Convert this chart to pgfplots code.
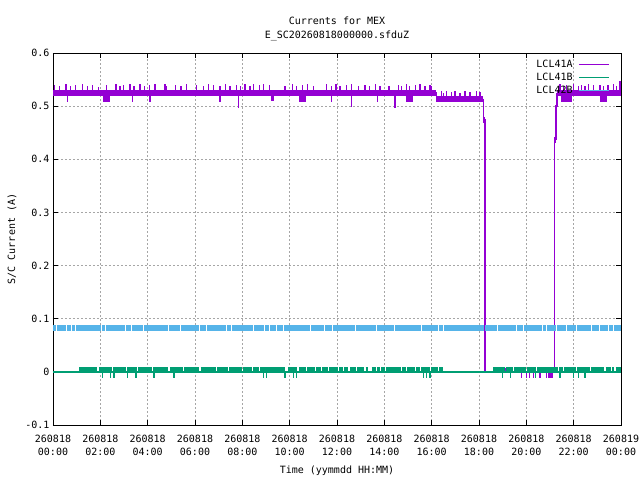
\documentclass[border=0pt]{standalone}
\usepackage{fontspec}
\setmainfont{DejaVu Sans Mono}
\usepackage{pgfplots}
\pgfplotsset{compat=1.18}
\definecolor{cA}{HTML}{9400D3}
\definecolor{cB}{HTML}{009E73}
\definecolor{cC}{HTML}{56B4E9}
\begin{document}
\begin{tikzpicture}
\useasboundingbox (-53pt,-55pt) rectangle (587pt,425pt);
\begin{axis}[
  at={(0pt,0pt)}, anchor=south west,
  scale only axis, width=568pt, height=372pt,
  xmin=0, xmax=24, ymin=-0.1, ymax=0.6,
  xtick={0,2,4,6,8,10,12,14,16,18,20,22,24},
  xticklabels={{260818\\[1pt]00:00},{260818\\[1pt]02:00},{260818\\[1pt]04:00},{260818\\[1pt]06:00},{260818\\[1pt]08:00},{260818\\[1pt]10:00},{260818\\[1pt]12:00},{260818\\[1pt]14:00},{260818\\[1pt]16:00},{260818\\[1pt]18:00},{260818\\[1pt]20:00},{260818\\[1pt]22:00},{260819\\[1pt]00:00}},
  xticklabel style={align=center, yshift=-7pt},
  ytick={-0.1,0,0.1,0.2,0.3,0.4,0.5,0.6},
  yticklabels={-0.1,0,0.1,0.2,0.3,0.4,0.5,0.6},
  tick align=inside, tick pos=both, major tick length=5pt,
  tick style={black, line width=0.8pt},
  axis line style={black, line width=0.8pt},
  grid=major,
  major grid style={gray!70, line width=0.8pt, dash pattern=on 2pt off 2pt},
  xlabel={Time (yymmdd HH:MM)}, ylabel={S/C Current (A)},
  xlabel style={yshift=-3pt},
  ylabel style={yshift=2pt},
  title={Currents for MEX\\[2pt]E\_SC20260818000000.sfduZ},
  title style={align=center, yshift=3pt},
  unbounded coords=jump,
  legend style={at={(1,1)}, anchor=north east, draw=none, fill=none, xshift=-8pt, yshift=-3pt,
    /tikz/every odd column/.append style={column sep=4pt}},
  legend plot pos=right, legend cell align=right,
  legend image code/.code={\draw[#1] (0pt,0pt) -- (30pt,0pt);},
]
\addlegendimage{cA, line width=1.2pt}
\addlegendentry{LCL41A}
\addlegendimage{cB, line width=1.2pt}
\addlegendentry{LCL41B}
\addlegendimage{cC, line width=1.2pt}
\addlegendentry{LCL42B}

% LCL41A band
\addplot[cA, line width=5.8pt, forget plot] coordinates {
(0,0.5245)(16.18,0.5245)(16.18,nan)
(16.18,0.5135)(18.18,0.5135)(18.18,nan)
(18.18,0.474)(18.25,0.474)(18.25,nan)
(21.19,0.437)(21.25,0.437)(21.25,nan)
(21.3,0.5245)(24,0.5245)(24,nan)
(2.1,0.514)(2.4,0.514)(2.4,nan)
(9.2,0.515)(9.35,0.515)(9.35,nan)
(10.4,0.514)(10.7,0.514)(10.7,nan)
(14.9,0.514)(15.2,0.514)(15.2,nan)
(21.45,0.514)(21.95,0.514)(21.95,nan)
(23.1,0.514)(23.4,0.514)(23.4,nan)
};
% LCL41A transitions
\addplot[cA, line width=1.5pt, forget plot] coordinates {
(18.18,0.514)(18.18,0.474)(18.25,0.474)(18.25,0)(21.19,0)(21.19,0.437)(21.25,0.437)(21.25,0.50)(21.3,0.50)(21.3,0.524)
};
% LCL41A spikes
\addplot[cA, line width=1.2pt, forget plot] coordinates {
(0.08,0.524)(0.08,0.540)(0.08,nan)
(0.27,0.524)(0.27,0.538)(0.27,nan)
(0.55,0.524)(0.55,0.541)(0.55,nan)
(0.75,0.524)(0.75,0.537)(0.75,nan)
(0.95,0.524)(0.95,0.540)(0.95,nan)
(1.25,0.524)(1.25,0.541)(1.25,nan)
(1.45,0.524)(1.45,0.538)(1.45,nan)
(1.68,0.524)(1.68,0.540)(1.68,nan)
(1.92,0.524)(1.92,0.536)(1.92,nan)
(2.27,0.524)(2.27,0.539)(2.27,nan)
(2.66,0.524)(2.66,0.541)(2.66,nan)
(2.83,0.524)(2.83,0.537)(2.83,nan)
(2.97,0.524)(2.97,0.540)(2.97,nan)
(3.25,0.524)(3.25,0.542)(3.25,nan)
(3.42,0.524)(3.42,0.538)(3.42,nan)
(3.68,0.524)(3.68,0.541)(3.68,nan)
(3.85,0.524)(3.85,0.537)(3.85,nan)
(4.07,0.524)(4.07,0.540)(4.07,nan)
(4.31,0.524)(4.31,0.542)(4.31,nan)
(4.73,0.524)(4.73,0.541)(4.73,nan)
(4.80,0.524)(4.80,0.537)(4.80,nan)
(5.18,0.524)(5.18,0.540)(5.18,nan)
(5.41,0.524)(5.41,0.538)(5.41,nan)
(5.65,0.524)(5.65,0.541)(5.65,nan)
(6.07,0.524)(6.07,0.539)(6.07,nan)
(6.35,0.524)(6.35,0.537)(6.35,nan)
(6.56,0.524)(6.56,0.541)(6.56,nan)
(6.77,0.524)(6.77,0.540)(6.77,nan)
(7.06,0.524)(7.06,0.538)(7.06,nan)
(7.28,0.524)(7.28,0.541)(7.28,nan)
(7.48,0.524)(7.48,0.537)(7.48,nan)
(7.76,0.524)(7.76,0.540)(7.76,nan)
(7.93,0.524)(7.93,0.538)(7.93,nan)
(8.11,0.524)(8.11,0.541)(8.11,nan)
(8.32,0.524)(8.32,0.537)(8.32,nan)
(8.46,0.524)(8.46,0.541)(8.46,nan)
(8.72,0.524)(8.72,0.539)(8.72,nan)
(8.89,0.524)(8.89,0.541)(8.89,nan)
(9.14,0.524)(9.14,0.540)(9.14,nan)
(9.80,0.524)(9.80,0.538)(9.80,nan)
(10.13,0.524)(10.13,0.541)(10.13,nan)
(10.30,0.524)(10.30,0.537)(10.30,nan)
(10.53,0.524)(10.53,0.540)(10.53,nan)
(10.75,0.524)(10.75,0.541)(10.75,nan)
(11.00,0.524)(11.00,0.538)(11.00,nan)
(11.54,0.524)(11.54,0.541)(11.54,nan)
(11.78,0.524)(11.78,0.538)(11.78,nan)
(11.96,0.524)(11.96,0.542)(11.96,nan)
(12.13,0.524)(12.13,0.537)(12.13,nan)
(12.41,0.524)(12.41,0.540)(12.41,nan)
(12.62,0.524)(12.62,0.541)(12.62,nan)
(12.90,0.524)(12.90,0.538)(12.90,nan)
(13.18,0.524)(13.18,0.540)(13.18,nan)
(13.37,0.524)(13.37,0.537)(13.37,nan)
(13.61,0.524)(13.61,0.541)(13.61,nan)
(13.82,0.524)(13.82,0.538)(13.82,nan)
(14.20,0.524)(14.20,0.537)(14.20,nan)
(14.59,0.524)(14.59,0.540)(14.59,nan)
(14.73,0.524)(14.73,0.538)(14.73,nan)
(14.94,0.524)(14.94,0.541)(14.94,nan)
(15.08,0.524)(15.08,0.537)(15.08,nan)
(15.30,0.524)(15.30,0.540)(15.30,nan)
(15.51,0.524)(15.51,0.541)(15.51,nan)
(15.72,0.524)(15.72,0.538)(15.72,nan)
(15.93,0.524)(15.93,0.540)(15.93,nan)
(16.00,0.524)(16.00,0.537)(16.00,nan)
(16.20,0.513)(16.20,0.527)(16.20,nan)
(16.42,0.513)(16.42,0.529)(16.42,nan)
(16.49,0.513)(16.49,0.524)(16.49,nan)
(16.63,0.513)(16.63,0.528)(16.63,nan)
(16.85,0.513)(16.85,0.526)(16.85,nan)
(16.99,0.513)(16.99,0.529)(16.99,nan)
(17.20,0.513)(17.20,0.525)(17.20,nan)
(17.41,0.513)(17.41,0.528)(17.41,nan)
(17.62,0.513)(17.62,0.526)(17.62,nan)
(17.90,0.513)(17.90,0.529)(17.90,nan)
(18.04,0.513)(18.04,0.527)(18.04,nan)
(21.42,0.524)(21.42,0.541)(21.42,nan)
(21.56,0.524)(21.56,0.538)(21.56,nan)
(21.71,0.524)(21.71,0.540)(21.71,nan)
(21.98,0.524)(21.98,0.541)(21.98,nan)
(22.20,0.524)(22.20,0.537)(22.20,nan)
(22.34,0.524)(22.34,0.540)(22.34,nan)
(22.48,0.524)(22.48,0.538)(22.48,nan)
(22.62,0.524)(22.62,0.541)(22.62,nan)
(22.83,0.524)(22.83,0.539)(22.83,nan)
(23.11,0.524)(23.11,0.540)(23.11,nan)
(23.25,0.524)(23.25,0.537)(23.25,nan)
(23.45,0.524)(23.45,0.539)(23.45,nan)
(23.67,0.524)(23.67,0.541)(23.67,nan)
(23.80,0.524)(23.80,0.537)(23.80,nan)
(23.96,0.524)(23.96,0.548)(23.96,nan)
(0.61,0.524)(0.61,0.508)(0.61,nan)
(3.37,0.524)(3.37,0.508)(3.37,nan)
(4.10,0.524)(4.10,0.508)(4.10,nan)
(7.06,0.524)(7.06,0.508)(7.06,nan)
(7.83,0.524)(7.83,0.497)(7.83,nan)
(11.78,0.524)(11.78,0.508)(11.78,nan)
(12.62,0.524)(12.62,0.498)(12.62,nan)
(13.72,0.524)(13.72,0.508)(13.72,nan)
(14.45,0.524)(14.45,0.497)(14.45,nan)
(15.10,0.524)(15.10,0.510)(15.10,nan)
(19.10,0)(19.10,0.008)(19.10,nan)
(19.52,0)(19.52,0.008)(19.52,nan)
(19.80,0.008)(19.80,-0.011)(19.80,nan)
(20.01,0)(20.01,-0.011)(20.01,nan)
(20.13,0)(20.13,-0.011)(20.13,nan)
(20.30,0.008)(20.30,-0.011)(20.30,nan)
(20.58,0)(20.58,-0.011)(20.58,nan)
(20.72,0)(20.72,0.008)(20.72,nan)
(20.86,0)(20.86,-0.011)(20.86,nan)
(20.93,0.008)(20.93,-0.011)(20.93,nan)
(21.00,0)(21.00,-0.011)(21.00,nan)
(21.07,0.008)(21.07,-0.011)(21.07,nan)
(21.11,0)(21.11,-0.011)(21.11,nan)
};

% LCL41B base line
\addplot[cB, line width=1.5pt, forget plot] coordinates {(0,0)(24,0)};
% LCL41B band
\addplot[cB, line width=5pt, forget plot] coordinates {
(1.11,0.0045)(1.88,0.0045)(1.88,nan)
(1.94,0.0045)(2.48,0.0045)(2.48,nan)
(2.54,0.0045)(3.08,0.0045)(3.08,nan)
(3.14,0.0045)(3.53,0.0045)(3.53,nan)
(3.59,0.0045)(4.18,0.0045)(4.18,nan)
(4.24,0.0045)(4.88,0.0045)(4.88,nan)
(4.94,0.0045)(5.48,0.0045)(5.48,nan)
(5.54,0.0045)(6.18,0.0045)(6.18,nan)
(6.24,0.0045)(6.88,0.0045)(6.88,nan)
(6.94,0.0045)(7.38,0.0045)(7.38,nan)
(7.44,0.0045)(7.98,0.0045)(7.98,nan)
(8.04,0.0045)(8.42,0.0045)(8.42,nan)
(8.47,0.0045)(8.70,0.0045)(8.70,nan)
(8.75,0.0045)(9.80,0.0045)(9.80,nan)
(9.94,0.0045)(10.30,0.0045)(10.30,nan)
(10.41,0.0045)(10.70,0.0045)(10.70,nan)
(10.75,0.0045)(11.05,0.0045)(11.05,nan)
(11.10,0.0045)(11.33,0.0045)(11.33,nan)
(11.38,0.0045)(11.61,0.0045)(11.61,nan)
(11.66,0.0045)(12.04,0.0045)(12.04,nan)
(12.09,0.0045)(12.25,0.0045)(12.25,nan)
(12.30,0.0045)(12.48,0.0045)(12.48,nan)
(12.55,0.0045)(12.81,0.0045)(12.81,nan)
(12.86,0.0045)(13.16,0.0045)(13.16,nan)
(13.21,0.0045)(13.32,0.0045)(13.32,nan)
(13.47,0.0045)(13.66,0.0045)(13.66,nan)
(13.71,0.0045)(13.83,0.0045)(13.83,nan)
(13.88,0.0045)(14.01,0.0045)(14.01,nan)
(14.06,0.0045)(14.71,0.0045)(14.71,nan)
(14.76,0.0045)(14.92,0.0045)(14.92,nan)
(14.97,0.0045)(15.28,0.0045)(15.28,nan)
(15.33,0.0045)(15.49,0.0045)(15.49,nan)
(15.54,0.0045)(15.91,0.0045)(15.91,nan)
(15.96,0.0045)(16.26,0.0045)(16.26,nan)
(16.31,0.0045)(16.48,0.0045)(16.48,nan)
(18.60,0.0045)(19.08,0.0045)(19.08,nan)
(19.13,0.0045)(19.43,0.0045)(19.43,nan)
(19.48,0.0045)(19.99,0.0045)(19.99,nan)
(20.04,0.0045)(20.42,0.0045)(20.42,nan)
(20.47,0.0045)(21.33,0.0045)(21.33,nan)
(21.38,0.0045)(21.54,0.0045)(21.54,nan)
(21.59,0.0045)(22.11,0.0045)(22.11,nan)
(22.16,0.0045)(22.67,0.0045)(22.67,nan)
(22.72,0.0045)(23.30,0.0045)(23.30,nan)
(23.35,0.0045)(23.58,0.0045)(23.58,nan)
(23.63,0.0045)(23.72,0.0045)(23.72,nan)
(23.77,0.0045)(24,0.0045)
};
% LCL41B dips
\addplot[cB, line width=1.2pt, forget plot] coordinates {
(2.08,0)(2.08,-0.011)(2.08,nan)
(2.44,0)(2.44,-0.011)(2.44,nan)
(2.58,0)(2.58,-0.011)(2.58,nan)
(3.14,0)(3.14,-0.011)(3.14,nan)
(3.51,0)(3.51,-0.011)(3.51,nan)
(4.27,0)(4.27,-0.011)(4.27,nan)
(5.11,0)(5.11,-0.011)(5.11,nan)
(8.89,0)(8.89,-0.011)(8.89,nan)
(9.03,0)(9.03,-0.011)(9.03,nan)
(9.80,0)(9.80,-0.011)(9.80,nan)
(10.15,0)(10.15,-0.011)(10.15,nan)
(10.30,0)(10.30,-0.011)(10.30,nan)
(15.65,0)(15.65,-0.011)(15.65,nan)
(15.79,0)(15.79,-0.011)(15.79,nan)
(15.93,0)(15.93,-0.011)(15.93,nan)
(19.00,0)(19.00,-0.011)(19.00,nan)
(19.34,0)(19.34,-0.011)(19.34,nan)
(20.40,0)(20.40,-0.011)(20.40,nan)
(21.42,0)(21.42,-0.011)(21.42,nan)
(21.98,0)(21.98,-0.011)(21.98,nan)
(22.20,0)(22.20,-0.011)(22.20,nan)
(22.48,0)(22.48,-0.011)(22.48,nan)
};

% LCL42B band
\addplot[cC, line width=6pt, forget plot] coordinates {
(0,0.0825)(0.11,0.0825)(0.11,nan)
(0.15,0.0825)(0.56,0.0825)(0.56,nan)
(0.60,0.0825)(0.77,0.0825)(0.77,nan)
(0.81,0.0825)(0.95,0.0825)(0.95,nan)
(0.99,0.0825)(1.12,0.0825)(1.12,nan)
(1.16,0.0825)(2.04,0.0825)(2.04,nan)
(2.08,0.0825)(2.18,0.0825)(2.18,nan)
(2.22,0.0825)(2.81,0.0825)(2.81,nan)
(2.85,0.0825)(3.06,0.0825)(3.06,nan)
(3.10,0.0825)(3.30,0.0825)(3.30,nan)
(3.34,0.0825)(3.80,0.0825)(3.80,nan)
(3.84,0.0825)(4.29,0.0825)(4.29,nan)
(4.33,0.0825)(4.85,0.0825)(4.85,nan)
(4.89,0.0825)(5.35,0.0825)(5.35,nan)
(5.39,0.0825)(5.98,0.0825)(5.98,nan)
(6.02,0.0825)(6.16,0.0825)(6.16,nan)
(6.20,0.0825)(6.47,0.0825)(6.47,nan)
(6.51,0.0825)(7.32,0.0825)(7.32,nan)
(7.36,0.0825)(7.53,0.0825)(7.53,nan)
(7.57,0.0825)(8.47,0.0825)(8.47,nan)
(8.51,0.0825)(8.93,0.0825)(8.93,nan)
(8.97,0.0825)(9.14,0.0825)(9.14,nan)
(9.18,0.0825)(9.42,0.0825)(9.42,nan)
(9.46,0.0825)(9.70,0.0825)(9.70,nan)
(9.74,0.0825)(10.87,0.0825)(10.87,nan)
(10.91,0.0825)(11.47,0.0825)(11.47,nan)
(11.51,0.0825)(11.79,0.0825)(11.79,nan)
(11.83,0.0825)(12.77,0.0825)(12.77,nan)
(12.81,0.0825)(13.29,0.0825)(13.29,nan)
(13.33,0.0825)(13.64,0.0825)(13.64,nan)
(13.68,0.0825)(14.42,0.0825)(14.42,nan)
(14.46,0.0825)(14.98,0.0825)(14.98,nan)
(15.02,0.0825)(15.55,0.0825)(15.55,nan)
(15.59,0.0825)(16.26,0.0825)(16.26,nan)
(16.30,0.0825)(16.47,0.0825)(16.47,nan)
(16.51,0.0825)(17.60,0.0825)(17.60,nan)
(17.64,0.0825)(18.23,0.0825)(18.23,nan)
(18.27,0.0825)(18.75,0.0825)(18.75,nan)
(18.79,0.0825)(19.57,0.0825)(19.57,nan)
(19.61,0.0825)(19.85,0.0825)(19.85,nan)
(19.89,0.0825)(20.67,0.0825)(20.67,nan)
(20.71,0.0825)(20.84,0.0825)(20.84,nan)
(20.88,0.0825)(21.26,0.0825)(21.26,nan)
(21.30,0.0825)(21.68,0.0825)(21.68,nan)
(21.72,0.0825)(22.11,0.0825)(22.11,nan)
(22.15,0.0825)(22.74,0.0825)(22.74,nan)
(22.78,0.0825)(23.09,0.0825)(23.09,nan)
(23.13,0.0825)(23.44,0.0825)(23.44,nan)
(23.48,0.0825)(23.65,0.0825)(23.65,nan)
(23.69,0.0825)(24,0.0825)
};
\end{axis}
\end{tikzpicture}
\end{document}
